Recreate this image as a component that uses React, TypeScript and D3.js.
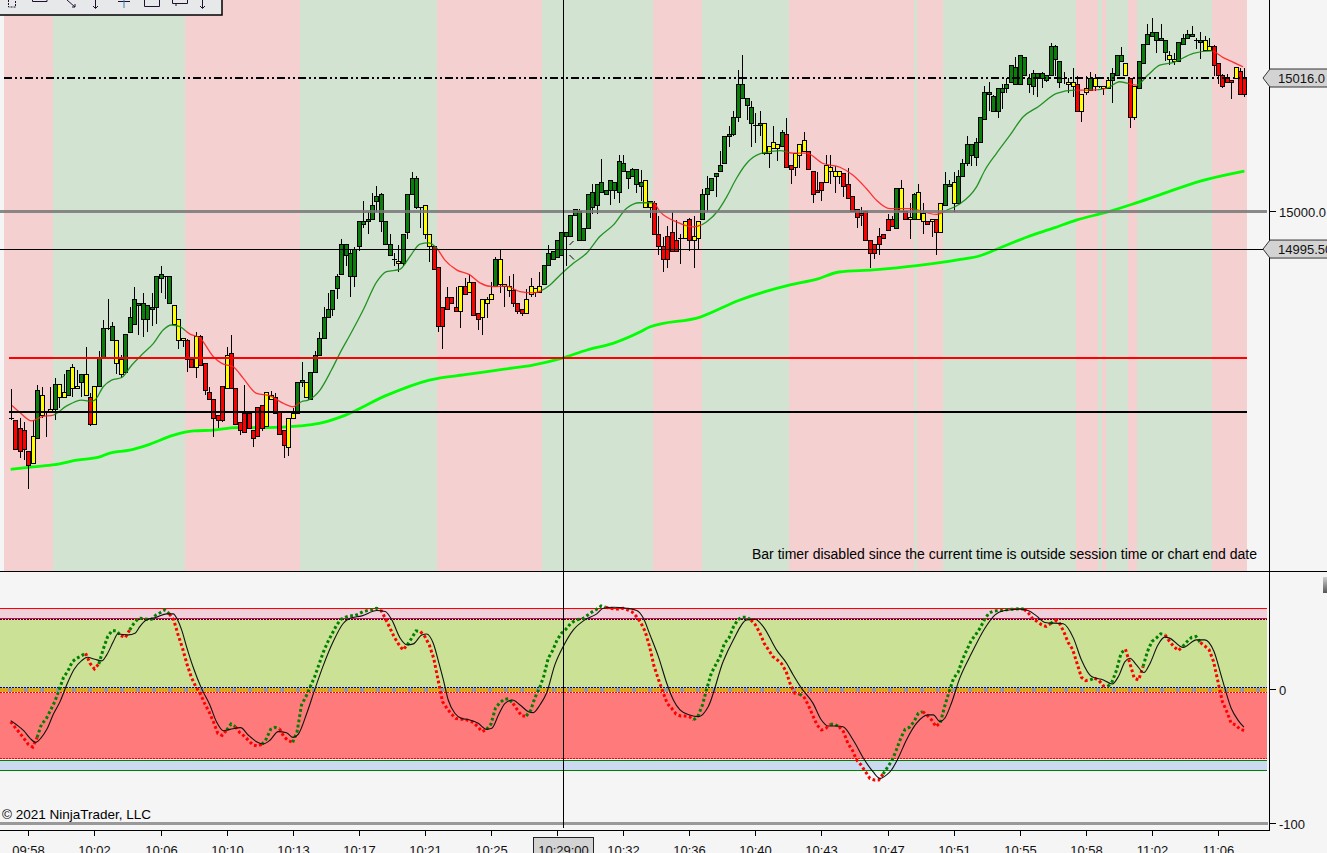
import React from 'react';
import * as d3 from 'd3';

const WIDTH = 1327;
const HEIGHT = 853;

const bodyTop = [
  14975.25,14975,14974,14973.75,14971.25,14973,14978.5,14978,14976,14976.25,
  14979.25,14979.25,14978.25,14981,14981.25,14979,14980.5,14980.5,14977.75,14979,
  14982.5,14986,14986,14986.25,14984.5,14982.25,14985.25,14987.25,14989.5,14989,
  14989,14988.75,14988.5,14992.25,14992.5,14992.25,14992.25,14988.75,14987,14984.75,
  14984.5,14982.25,14985,14985,14981.75,14978.25,14977.5,14975.5,14979,14982.75,
  14983,14978.75,14974.75,14975.75,14975.75,14973.75,14976.5,14976.75,14978.25,14978,
  14977.75,14976,14973.75,14975.25,14975.75,14979.5,14979.75,14979.5,14980.75,14982.75,
  14984.75,14987.25,14988.25,14990.5,14992.25,14996,14996,14995,14995.5,14998.75,
  14998.75,14999,15000.75,15001.75,15002,14998.75,14996,14994.25,14994,14997.25,
  15002,15004,15004,15000.5,15000.75,14997.25,14995.75,14993.25,14988.5,14989.75,
  14989.75,14988.5,14991,14991,14991.5,14991.5,14987.75,14989.5,14989.5,14990,
  14994.25,14994.25,14991.25,14991,14990.5,14989,14988.25,14989.5,14991,14990.75,
  14991,14993.5,14995,14995.25,14996.5,14997.5,14997.5,14999.5,15000.25,15000,
  14998,15002,15002.25,15003.25,15003.5,15002.5,15003.75,15003.5,15006,15005.75,
  15004.75,15005,15005,15003.5,15003.75,15001.25,15001,14997.25,14995.75,14997,
  14997.5,14996.5,14996.75,14998.75,14999,14997,14998.75,15002,15002.75,15004,
  15004.5,15005.5,15009,15009.25,15011.25,15015.25,15015.25,15013.5,15012.5,15010.25,
  15010.5,15010.5,15007.75,15008.25,15008,15009.5,15009.25,15005.5,15007,15008,
  15008.5,15007.25,15004.75,15002.5,15003.5,15005.5,15005.25,15004.75,15004.75,15004.5,
  15003.25,15001.75,15000.25,14999.75,15000,14996.5,14996,14997,14997.25,14999,
  14999,15002.75,15002.75,15000,14999.25,15002,15002.25,14999.75,14998.75,14999,
  14999,15001,15003.25,15003.25,15003.5,15004.25,15005.75,15008,15008,15008.25,
  15011.25,15014.25,15014.25,15013.75,15014.75,15014.75,15015.25,15017.5,15017.25,15018.75,
  15018.5,15016,15016.5,15016.5,15016.5,15016.25,15019.75,15019.75,15018,15016,
  15015.5,15015.5,15015.25,15014,15014.75,15016,15016,15015,15015,15015.75,
  15016.5,15018.75,15018.75,15017.75,15016,15015,15018,15020,15021.25,15021.5,
  15021.5,15020.75,15020.5,15018.75,15018.25,15020.25,15020.75,15021.25,15021.25,15020.5,
  15020.5,15020.5,15019.75,15019.75,15017.75,15016.25,15016,15015.75,15017.25,15016.75,
  15016,
];

const bodyBottom = [
  14975.25,14971.5,14971.25,14971.5,14969.5,14969.75,14972.75,14975.5,14976,14976,
  14976.25,14977.75,14977.75,14978,14978.75,14978.75,14979.5,14978,14974.5,14974.5,
  14979,14982.5,14986,14984.5,14981.75,14980.5,14980.75,14985.5,14986.5,14988.75,
  14987,14987,14988.25,14988.5,14992,14992.25,14989,14986.5,14984.5,14984.5,
  14982.25,14981.25,14981.25,14981.5,14978.5,14977.5,14975.25,14975,14975,14978.75,
  14978.75,14974.5,14973.75,14973.5,14974,14972.75,14973,14974,14974.25,14977.5,
  14975.75,14973.25,14972,14971.75,14975.25,14975.75,14979.5,14977.75,14977.5,14980.75,
  14982.75,14984.75,14987.25,14988.25,14990.75,14992.5,14994.75,14992.25,14992.25,14995.75,
  14998.5,14998.75,14999,15001.25,14998.75,14996,14994.75,14994.25,14993.75,14993.75,
  14997.5,15002,15000.5,15000.5,14997.25,14995.75,14993,14986.25,14986.25,14988.25,
  14989,14988,14988,14990,14990.25,14987.5,14987,14987.25,14989,14989.5,
  14991,14991.25,14991,14990.5,14989,14988,14987.75,14987.75,14990,14990.25,
  14990.25,14991.25,14993.5,14994.25,14994.5,14994.75,14997,14997,14999.5,14996.5,
  14996.5,14998,15000.5,15000.75,15002.25,15002,15002.5,15002.5,15002.25,15004.75,
  15004,15004.25,15003.25,15003,15000.5,15000.5,14997.25,14995.75,14994.25,14994.25,
  14995.25,14995.25,14996.75,14996.75,14996.5,14996.5,14996.75,14999,15002,15002.5,
  15004.25,15004.75,15005.75,15009,15009.25,15011.25,15013.5,15012.75,15010.5,15010.25,
  15010.25,15007,15007,15007.5,15007.5,15007.75,15005.25,15005,15005.25,15006.75,
  15007.25,15005,15002,15002.25,15002.5,15003.5,15004.75,15004.25,15004.25,15003,
  15001.5,15000,14999.25,14999.5,14996.5,14995,14995,14996,14996.75,14997.75,
  14998.25,14998,15000,14999,14999,14999,14999,14998.75,14998.5,14998.75,
  14997.5,14997.5,15000.75,15003,15001,15001,15004.25,15005.75,15006.75,15006.5,
  15008.25,15011,15014,15012,15012,15014.25,15014.75,15015.5,15015.25,15015.25,
  15016.25,15015.25,15015,15016,15016,15015.75,15016.25,15018.25,15015.5,15016,
  15015.25,15015,15012,15012,15014.25,15014.5,15015,15015,15014.75,15014.75,
  15015.75,15016.25,15018,15016.25,15011.25,15011.25,15014.75,15017.75,15020,15021,
  15020.5,15020.5,15019,15018.25,15018,15018,15020,15020.75,15021,15020.5,
  15020.25,15019.25,15019.25,15017.5,15016.25,15015,15015.5,15015.5,15016,15014,
  15014,
];

const wickTop = [
  14978.75,14975,14975.25,14974.75,14971.25,14975,14979.25,14979,14976,14979,
  14980,14979.25,14980.5,14981,14981.75,14981,14980.5,14983.75,14978.25,14979,
  14983.25,14987,14989.5,14986.75,14984.5,14982.75,14985.25,14988.5,14991,14989,
  14990.25,14988.75,14990.25,14992.25,14993.5,14992.25,14992.25,14988.75,14987,14984.75,
  14984.75,14982.25,14985.5,14985.25,14981.75,14979,14977.5,14975.5,14979,14983.75,
  14985.25,14978.75,14974.75,14979.25,14975.75,14973.75,14976.5,14976.75,14978.25,14978.5,
  14978.25,14976,14973.75,14975.25,14976.5,14979.5,14982,14979.5,14980.75,14983.25,
  14985.5,14988.5,14990.25,14990.5,14992.5,14996.75,14996,14995.5,14995.75,14998.75,
  15001.25,15000,15002.25,15003,15002.25,14998.75,14997.25,14995,14996,14997.25,
  15002,15004.75,15004.25,15000.5,15000.75,14997.25,14995.75,14993.25,14988.5,14991,
  14989.75,14991,14991,14992,14992.5,14991.5,14987.75,14989.5,14989.75,14991.5,
  14994.5,14995.5,14991.25,14992.25,14992.5,14989,14988.25,14990.75,14992,14990.75,
  14992.75,14993.5,14996,14995.25,14996.5,14997.5,14997.5,14999.5,15000.25,15000.25,
  14998,15002,15003.25,15003.25,15006.25,15002.5,15003.75,15003.5,15006.75,15006.75,
  15004.75,15005.25,15005,15005,15003.75,15001.25,15001.25,14999.5,14997,14998.25,
  15000,14999,14997.25,14998.75,14999.25,14999.5,14998.75,15002.75,15004.25,15004,
  15004.5,15007.25,15009,15010.25,15012,15017,15018.75,15013.5,15013.25,15011.75,
  15012,15010.5,15007.75,15010.25,15008,15009.75,15011.25,15005.5,15007,15008,
  15009.5,15007.25,15004.75,15004.75,15003.5,15006.75,15006.75,15005.5,15004.75,15004.5,
  15005.25,15001.75,15000.25,15000.5,15000,14996.5,14996,14998,14997.25,14999.75,
  14999.5,15002.75,15003.75,15000,15001,15002.25,15003.25,15001,14998.75,14999,
  14999,15001,15004.75,15003.75,15004.75,15005,15006.25,15009,15008,15008.75,
  15011.25,15015,15015.5,15014,15014.75,15015.25,15016,15017.5,15018.5,15018.75,
  15018.5,15016.5,15017,15016.5,15016.75,15016.25,15020.25,15020,15018,15016.75,
  15016,15017.25,15016.25,15014,15016.25,15016.75,15016.5,15015,15015,15016,
  15017.25,15018.75,15019.75,15017.75,15016,15015,15018,15020,15022.5,15023.25,
  15021.5,15022.5,15020.5,15019.25,15019,15020.25,15021.25,15021.75,15022.25,15020.75,
  15021.5,15021,15020.75,15020,15017.75,15016.5,15016.5,15015.75,15017.25,15017.25,
  15017.25,
];

const wickBottom = [
  14975,14971.5,14970.5,14970.25,14966.75,14969.75,14972.75,14975.25,14973,14976,
  14975,14976.5,14977.75,14978,14977.75,14978.75,14977.75,14978,14974.25,14974.5,
  14979,14982.5,14985.75,14984.5,14980.5,14980,14980.75,14985.5,14986.5,14985.25,
  14985,14985.5,14986.25,14986.5,14990.25,14989.5,14989,14986.5,14983.5,14983.75,
  14980.75,14981.25,14980,14981.5,14978,14977.5,14973,14974,14974.75,14978.75,
  14978.75,14974.5,14973.25,14973.5,14974,14971.75,14973,14973.75,14974.25,14977.5,
  14975.75,14973.25,14970.5,14970.75,14975.25,14975.75,14979,14977.75,14977.5,14980.75,
  14982.75,14984.75,14987.25,14987.5,14989.5,14992.5,14993.5,14989.75,14991,14995.25,
  14998,14997.25,14999,15000,14997.5,14996,14994.75,14993.5,14992.75,14993.5,
  14996.75,15002,15000.25,14998,14996.75,14994,14993,14985.5,14983.5,14988.25,
  14989,14988,14986,14990,14990.25,14987.5,14985.75,14985.25,14987.25,14989.5,
  14991,14990.25,14988.5,14989.75,14988.5,14987.75,14987.5,14987.75,14989.75,14989.75,
  14990.25,14991.25,14993.5,14994.25,14994.5,14994.75,14993.5,14997,14999.5,14996.5,
  14996.5,14998,14999.75,14999.75,15002.25,15002,15000.75,15001.5,15001,15004.75,
  15002.75,15004.25,15002.25,15001.25,15000.5,14999.25,14997.25,14994.75,14992.75,14993.25,
  14995.25,14995.25,14993.75,14996.75,14995.25,14993.25,14995.5,14999,15000,15002.5,
  15001.75,15004.75,15005.75,15007.75,15009,15010.75,15013.5,15011,15007.75,15008.25,
  15009,15006.75,15005.25,15007.5,15006,15007.75,15005.25,15003.25,15004.25,15005.25,
  15007.25,15005,15001,15002.25,15001.25,15003.5,15003.25,15002.25,15003.25,15001.75,
  15001.5,15000,14998,14998.25,14996.5,14993.25,14994.25,14994.75,14996.75,14997.75,
  14998.25,14998,15000,14999,14996.75,14999,14999,14997.25,14998.5,14997,
  14994.75,14997.5,15000.75,15003,15000,15001,15004.25,15005.5,15005.5,15005.5,
  15008.25,15011,15012,15012,15011.25,15012.25,15014.25,15015.5,15015.25,15015.25,
  15016.25,15014.25,15014,15013.75,15014.75,15015.5,15016.25,15016.25,15014.75,15015.25,
  15014.25,15013.75,15012,15010.75,15014,15014.5,15014.5,15014.75,15014,15014.75,
  15013,15016.25,15018,15016.25,15010,15011,15014.75,15017.75,15020,15021,
  15019,15020.5,15018,15017.5,15017.5,15018,15020,15020.75,15021,15019.5,
  15018.25,15019.25,15019.25,15016.25,15015.25,15014.75,15015.5,15013.5,15016,15014,
  15013.75,
];

const barTones = (
  'KRRRRYGYKY' + 'GYYGYYGYRY' + 'GGKGYYGGGG' + 'GGGGGKGYYY' + 'RRYRRRRRRY' +
  'RRRRRRRRYY' + 'RRRYYGGYGG' + 'GGGGGGGGGG' + 'GGGGGGGKYG' + 'GGGKYYRRRR' +
  'RRYRYRRYYY' + 'GYYYRRRYYY' + 'YGGGGGGGGG' + 'GGGGGGGGGG' + 'GGGGYYRRRR' +
  'RRKYRYYGGG' + 'GGGGGGGGGK' + 'GYYYYGRRYY' + 'YRRRRYYYYR' + 'RRRRRRRRRR' +
  'RGYRYGYYRY' + 'RYGGYGGGGG' + 'GGGGGGGGGG' + 'GGGGGGGGGK' + 'YYRYYGYKYY' +
  'GGGYRYGGGG' + 'GGGYYGGGGK' + 'GYYRRRRRYR' + 'R'
).split('');

// fast average, coloured by the background zone it runs over
const emaBars = [0.3,2.1,4.8,7,9.7,12.7,16.1,18,19.1,21,22.9,25.2,27.5,29.7,32.4,34.6,36.5,38.4,40.7,43,46,47.9,50.5,52.8,55.8,58.9,61.9,64.1,66,67.5,70.2,72.8,74.7,77,80,83.1,85.3,88.3,90.6,92.9,94.8,96.7,98.5,101.2,104.2,106.5,109.5,112.5,115.6,118.6,122.4,124.7,127.7,130.7,133.7,136.8,139.8,142.8,145.8,147.4,151.1,154.9,157.9,160.6,162.5,164.7,167,170,174.6,177.6,180.6,184.4,188.2,191.2,194.2,196.5,199.5,204.1,210.1,212.4,215.4,219.2,221.1,223.7,226.8,229.8,233.2,237.4,241.5,245.3,248.7,251.7,255.5,258.1,260.8,263.8,268.4,272.5,275.2,277.4,279.7];
const emaPrices = [14976.75,14975.9,14974.9,14975.4,14975.6,14976.7,14977.4,14977.25,14977.4,14979,14979.8,14980.1,14981.6,14982.8,14984.2,14985.8,14986.4,14986.2,14985.3,14984.8,14982.6,14981.8,14981.4,14980,14978.2,14977.9,14977,14976.6,14977.2,14977.4,14978.6,14981,14983,14985.2,14988.2,14991.6,14992.8,14993.05,14994.6,14996.1,14996.25,14995.6,14994.2,14993,14992.4,14991.45,14991,14991.05,14990.4,14990.25,14991.2,14992.4,14993.8,14995,14997,14998.4,15000.4,15001.05,15001.05,14999.95,14998.75,14998.15,14998.75,15000.15,15001.75,15003.95,15005.75,15006.9,15007.3,15007,15007,15005.75,15005.3,15004.35,15002.75,15001.35,15000.35,15000.35,14999.65,15000.15,15000.9,15002.95,15004.95,15006.95,15009.15,15011.35,15012.55,15014.15,15014.55,15014.55,15014.75,15015.55,15015.15,15016.35,15017.55,15017.85,15018.95,15019.25,15018.45,15017.9,15017.35];

// slow average, the thick bright green line
const smaBars = [0,5,10,15,20,22.5,27,31,37,41.5,46,51.3,58,65.7,70,76,85,95,104,112,118.5,125,130.8,136.7,142.8,145,156.5,165.5,176.9,183,188,195.7,205.7,215.5,220,225,230.7,236.6,242,249,254.7,260.8,270,280];
const smaPrices = [14969.1,14969.4,14969.65,14970.2,14970.55,14971.05,14971.4,14972,14973.2,14973.7,14973.8,14974.1,14974.1,14974.3,14974.6,14975.6,14977.9,14979.8,14980.5,14981.1,14981.6,14982.4,14983.4,14984.2,14985.55,14986.15,14987.35,14989.4,14991.2,14991.9,14992.75,14993,14993.5,14994.25,14994.7,14995.75,14996.95,14998,14999,14999.95,15000.9,15002,15003.65,15004.85];

// background zones, alternating pink and green from the left
const zoneEdges = [-1.5,9.7,39.6,65.7,96.75,120.5,145.8,156.8,176.6,205,205.7,211.7,241.7,246.7,247.7,248.6,253.6,255.6,272.7,280.6];

const oscDots = [
  -23.9,-28.1,-32.1,-36.3,-40.8,-42.8,-35.6,-25.6,-22.1,-15.6,-8.9,-0.2,9.3,14,21,23.5,25.2,27.2,19.7,15.5,
  19.2,30.2,39.6,44.1,43.9,40.4,38.9,44.6,49.6,53.3,53.1,52.6,52.6,55.8,57.6,59.6,56.6,52.1,40.9,30.9,
  19.2,9.3,2.3,-2.7,-10.2,-16.4,-23.9,-32.6,-34.1,-30.1,-25.6,-27.6,-32.1,-34.6,-38,-41.3,-42,-40.8,-36.8,-29.6,
  -28.1,-29.1,-35.1,-38,-39.3,-31.3,-11.4,-5.2,2.3,9.8,19.2,28.4,35.9,42.1,48.4,52.6,54.1,55.1,55.1,56.6,
  58.3,59.1,59.6,60.8,59.6,53.3,46.6,39.6,34.2,29.7,33.4,38.4,43.9,43.4,39.6,33.4,23.5,7.3,-8.9,-13.9,
  -18.1,-21.4,-22.1,-22.1,-23.1,-24.4,-27.6,-31.3,-29.6,-25.6,-13.9,-9.7,-7.2,-6.7,-10.2,-15.1,-19.6,-19.6,-15.6,-5.7,
  1,10.3,23.5,29.2,37.1,42.1,45.1,49.1,51.6,52.6,53.3,55.8,58.1,60.1,62.5,61.5,60.8,60.3,60.3,60.8,
  59.6,58.1,54.6,50.1,43.4,32.2,17.7,7.8,-1.4,-10.2,-13.9,-18.1,-19.6,-19.6,-20.1,-22.6,-19.6,-11.4,1,12.2,
  18.5,24.7,34.7,38.4,46.6,52.1,54.1,54.1,52.1,48.4,42.6,34.7,29.7,24.7,22.2,19.2,13.5,3.5,-2.7,-3.2,
  -5.2,-11.4,-18.9,-26.3,-30.1,-28.8,-25.8,-25.8,-27.6,-31.3,-40,-45,-52.5,-56.2,-61.2,-66.2,-67.4,-67.4,-62.9,-57.9,
  -52.9,-45,-36.2,-29.5,-28,-23.8,-17.6,-16.3,-19.1,-22.5,-27.5,-24.5,-12.1,-1.4,8.6,12.8,22.3,29.7,36.7,41,
  45.9,52.2,57.1,58.6,59.1,59.1,59.6,60.1,60.1,60.6,60.1,57.1,52.6,50.9,48.4,47.2,49.2,52.2,49.7,43.4,
  35.2,30.2,19.8,9.3,6.8,7.3,8.6,6.8,2.8,2.4,6.1,14.8,27.3,30.2,19.8,8.6,7.3,17.3,28.5,36,
  38.5,41.7,41,36,32.2,29.2,32.2,36,39,39.7,35.2,32.7,29.7,21,6.1,-8.9,-16.3,-25,-26.3,-29.5,
  -30.5,
];

// bars where the dotted line changes colour, starting red
const dotFlips = [6,17,20,25,27,36,49,51,57,61,64,84,90,93,108,114,117,135,155,168,179,180,186,188,198,207,211,230,236,237,245,246,249,253,257,262,266,270];

const oscBars = [0,1.4,3,4.4,5.7,6.8,8.2,9.7,11.2,12.7,14.4,16.1,17.4,19.1,20.7,21.8,23.3,24.3,26.7,28.2,29.3,30.6,33.1,35.4,36.9,37.8,38.8,39.9,41.5,43.3,45.2,46.7,48.3,49.8,52.2,53.9,55.8,57.3,58.9,60.7,62.6,64.1,65.3,67.2,69.1,71,73.2,75.5,77,79.7,83.1,85,86.5,88.4,90,91.4,93.3,94.4,95.9,97.3,98.2,99.3,100.8,102.3,104.2,106.1,108,109.2,110.7,112.2,113.9,115.6,117.5,118.6,120.1,121.6,123.5,125.4,127.7,130.3,133,134.5,136.8,139.8,142.1,143.6,145.1,147,148.9,150.4,151.9,154.1,156.1,158.3,161.7,164,167,168.9,170.8,173.8,176.1,177.6,179.5,182.1,184,185.5,187.4,188.9,191.2,193.8,195.7,197.3,198.8,199.9,201.4,203.3,205.6,208.2,209.4,210.9,212,213.5,215.4,218.1,221.1,223.4,225.3,229,230.9,232.8,234.7,238.9,241.2,243,245.3,248,250,251.4,252.9,254,255.5,257.2,258.6,260.4,261.9,263,266.1,269.1,271,273.1,274.8,277,278.5,279.9];
const oscLine = [-23.1,-26.3,-30.8,-36.3,-39.3,-36.3,-29.6,-18.1,-8.9,3.5,15.2,21.7,24.2,22.7,21.5,26,35.9,41.6,40.9,42.1,47.1,51.6,54.1,56.6,56.6,52.6,44.6,32.2,16,1,-11.4,-23.9,-30.6,-29.6,-28.3,-33.8,-38.8,-40.5,-37.5,-31.3,-32.1,-35.6,-33.1,-17.6,1,18.5,35.9,49.6,53.3,55.1,59.1,58.3,52.1,38.4,33.4,34.2,40.9,41.6,34.7,18.5,7.3,-7.7,-17.6,-21.4,-22.6,-25.1,-29.6,-28.8,-18.9,-10.2,-7.7,-11.4,-16.4,-17.1,-11.4,-2.7,18.5,32.2,44.6,52.1,56.6,60.8,61.5,60.8,59.1,53.3,40.9,24.7,4.8,-7.7,-15.1,-18.9,-20.1,-12.7,21,37.1,52.1,52.6,47.1,29.7,19.7,11,1,-10.2,-22.6,-27.1,-27.1,-27.6,-37.5,-52.5,-61.2,-66.2,-63.6,-59.9,-51.2,-37.5,-25,-18.8,-18.8,-23.8,-21.3,-10.1,8.6,27.3,45.9,55.9,58.9,60.1,59.1,55.1,50.2,49.2,38.5,22.3,9.8,7.3,4.3,9.8,21,23.5,18.5,12.8,19.8,33.5,39.2,38.5,31.5,37.2,37.2,28.5,9.8,-13.8,-22.5,-28];

const timeTickBars = [4,19,34,49,64,79,94,109,124,139,154,169,184,199,214,229,244,259,274];
const timeTickLabels = ['09:58','10:02','10:06','10:10','10:13','10:17','10:21','10:25','','10:32','10:36','10:40','10:43','10:47','10:51','10:55','10:58','11:02','11:06'];

const priceTags = [
  { price: 15016, label: '15016.0' },
  { price: 14995.5, label: '14995.50' },
];

const x = d3.scaleLinear().domain([0, 280]).range([10.7, 1244.4]);
const y = d3.scaleLinear().domain([15000, 15016]).range([211.5, 78]);
const osc = d3.scaleLinear().domain([-100, 0]).range([823.7, 689.7]);

const barFill: Record<string, string> = { G: '#0a7d0a', R: '#ff0000', Y: '#ffff00' };

const emaLine = d3.line<number>()
  .x((_, i) => x(emaBars[i]))
  .y(d => y(d))
  .curve(d3.curveMonotoneX);
const smaLine = d3.line<number>()
  .x((_, i) => x(smaBars[i]))
  .y(d => y(d))
  .curve(d3.curveMonotoneX);
const oscPath = d3.line<number>()
  .x((_, i) => x(oscBars[i]))
  .y(d => osc(d))
  .curve(d3.curveMonotoneX);
const dotPath = d3.line<number>()
  .x(i => x(i))
  .y(i => osc(oscDots[i]));

// one dotted stretch per colour run
const dotRuns = d3.pairs([0, ...dotFlips, oscDots.length - 1]).map(([from, to], i) => ({
  bars: d3.range(from, to + 1),
  color: i % 2 === 1 ? '#008000' : '#ff0000',
}));

const zones = d3.pairs(zoneEdges).map(([a, b], i) => ({ a, b, pink: i % 2 === 0 }));

const zoneClip = (id: string, pink: boolean) => (
  <clipPath id={id}>
    {zones.filter(z => z.pink === pink).map(z => (
      <rect key={z.a} x={x(z.a)} y={0} width={x(z.b) - x(z.a)} height={571} />
    ))}
  </clipPath>
);

const FONT = '"Liberation Sans", Arial, sans-serif';

export default function App() {
  const px = (i: number) => Math.round(x(i));

  return (
    <svg
      width={WIDTH}
      height={HEIGHT}
      viewBox={`0 0 ${WIDTH} ${HEIGHT}`}
      style={{ position: 'absolute', left: 0, top: 0, display: 'block', background: '#f5f5f5' }}
      fontFamily={FONT}
      fontSize={13}
    >
      <defs>
        {zoneClip('pinkZones', true)}
        {zoneClip('greenZones', false)}
        <linearGradient id="grip" x1="0" y1="0" x2="0" y2="1">
          <stop offset="0" stopColor="#d0d0d0" />
          <stop offset="1" stopColor="#555" />
        </linearGradient>
      </defs>

      {/* background zones */}
      {zones.map(z => (
        <rect
          key={z.a}
          x={x(z.a)}
          y={0}
          width={x(z.b) - x(z.a)}
          height={571}
          fill={z.pink ? '#f5d0d1' : '#d2e3d2'}
          shapeRendering="crispEdges"
        />
      ))}

      {/* toolbar */}
      <rect x={-2} y={-2} width={224} height={17} fill="#e6e8ea" stroke="#000" strokeWidth={1.5} />
      <g fill="none" stroke="#201030" strokeWidth={1}>
        <path d="M8.5 0V7H15.5V0" strokeDasharray="2 1" />
        <path d="M32.5 0V1.5H47V0" />
        <path d="M67 0L75 7M72 7H75V4" />
        <path d="M95.5 0V8M93 6L95.5 8.5L98 6" />
        <path d="M118 1.5H130" />
        <path d="M124 0V8" stroke="#3a7fc0" />
        <path d="M144.5 0V6.5H159.5V0" />
        <path d="M172.5 0V3.5H187.5V0M176 3.5V6" />
        <path d="M202.5 0V8M200 6L202.5 8.5L205 6" />
      </g>

      <path d={smaLine(smaPrices) ?? ''} fill="none" stroke="#00ff00" strokeWidth={2.8} />

      {/* candles */}
      <g shapeRendering="crispEdges" stroke="#000" strokeWidth={1}>
        {barTones.map((tone, i) => (
          <g key={i}>
            <line x1={px(i) + 0.5} x2={px(i) + 0.5} y1={y(wickTop[i])} y2={y(wickBottom[i])} />
            {tone === 'K' ? (
              <line x1={px(i) - 2} x2={px(i) + 3} y1={y(bodyTop[i])} y2={y(bodyTop[i])} />
            ) : (
              <rect
                x={px(i) - 1.5}
                y={y(bodyTop[i])}
                width={4}
                height={Math.max(1, y(bodyBottom[i]) - y(bodyTop[i]))}
                fill={barFill[tone]}
              />
            )}
          </g>
        ))}
      </g>

      <path d={emaLine(emaPrices) ?? ''} fill="none" stroke="#ff2020" strokeOpacity={0.9} strokeWidth={1.3} clipPath="url(#pinkZones)" />
      <path d={emaLine(emaPrices) ?? ''} fill="none" stroke="#108a10" strokeOpacity={0.9} strokeWidth={1.3} clipPath="url(#greenZones)" />

      {/* price levels */}
      <g shapeRendering="crispEdges">
        <line x1={4} x2={1247} y1={y(15016)} y2={y(15016)} stroke="#000" strokeWidth={2} strokeDasharray="8 3 2 3 2 3" />
        <line x1={0} x2={1267} y1={y(15000)} y2={y(15000)} stroke="#777" strokeOpacity={0.85} strokeWidth={3} />
        <line x1={0} x2={1269} y1={y(14995.5)} y2={y(14995.5)} stroke="#000" />
        <line x1={9} x2={1247} y1={y(14982.5)} y2={y(14982.5)} stroke="#ff0000" strokeWidth={2} />
        <line x1={9} x2={1247} y1={y(14976)} y2={y(14976)} stroke="#000" strokeWidth={2} />
      </g>

      <text x={752} y={559} fontSize={14}>Bar timer disabled since the current time is outside session time or chart end date</text>

      {/* oscillator panel bands */}
      <g shapeRendering="crispEdges">
        <rect x={0} width={1267} y={osc(60.7)} height={osc(53.3) - osc(60.7)} fill="#efd0db" />
        <rect x={0} width={1267} y={osc(52.4)} height={osc(1.6) - osc(52.4)} fill="#cae196" />
        <rect x={0} width={1267} y={osc(-2.2)} height={osc(-51.5) - osc(-2.2)} fill="#ff7b7b" />
        <rect x={0} width={1267} y={osc(-52.7)} height={osc(-60.3) - osc(-52.7)} fill="#cbd9f1" />
        <line x1={0} x2={1267} y1={osc(60.7)} y2={osc(60.7)} stroke="#ff0000" />
        <line x1={0} x2={1267} y1={osc(53.3)} y2={osc(53.3)} stroke="#ff0000" />
        <line x1={0} x2={1267} y1={osc(52.4)} y2={osc(52.4)} stroke="#0000a0" strokeDasharray="2 1" />
        <rect x={0} width={1267} y={osc(1.2)} height={4} fill="#999" />
        <rect x={0} width={1267} y={osc(-1.5)} height={1} fill="#fff" />
        <line x1={0} x2={1267} y1={osc(-0.3)} y2={osc(-0.3)} stroke="#daa520" strokeWidth={4} strokeDasharray="12 4" strokeDashoffset={4} />
        <line x1={0} x2={1267} y1={osc(1.6)} y2={osc(1.6)} stroke="#0000a0" strokeDasharray="2 1" />
        <line x1={0} x2={1267} y1={osc(-2.2)} y2={osc(-2.2)} stroke="#ff0000" strokeDasharray="2 1" />
        <line x1={0} x2={1267} y1={osc(-51.5)} y2={osc(-51.5)} stroke="#ff0000" strokeDasharray="2 1" />
        <line x1={0} x2={1267} y1={osc(-52.7)} y2={osc(-52.7)} stroke="#008000" />
        <line x1={0} x2={1267} y1={osc(-60.3)} y2={osc(-60.3)} stroke="#008000" />
        <line x1={0} x2={1268} y1={osc(-100)} y2={osc(-100)} stroke="#999" strokeWidth={3} />
      </g>

      {dotRuns.map(run => (
        <path
          key={run.bars[0]}
          d={dotPath(run.bars) ?? ''}
          fill="none"
          stroke={run.color}
          strokeWidth={3}
          strokeDasharray="2.8 2.5"
        />
      ))}
      <path d={oscPath(oscLine) ?? ''} fill="none" stroke="#111" strokeWidth={1.1} />

      <text x={2} y={819} fontSize={13.5}>© 2021 NinjaTrader, LLC</text>

      {/* frame and crosshair */}
      <g shapeRendering="crispEdges" stroke="#000">
        <line x1={0} x2={WIDTH} y1={571.5} y2={571.5} />
        <line x1={1269.5} x2={1269.5} y1={0} y2={830} />
        <line x1={0} x2={1270} y1={830.5} y2={830.5} />
        <line x1={563.5} x2={563.5} y1={0} y2={828} />
        <line x1={1270} x2={1276} y1={y(15000)} y2={y(15000)} />
        <line x1={1270} x2={1276} y1={osc(0)} y2={osc(0)} />
        <line x1={1270} x2={1276} y1={osc(-100)} y2={osc(-100)} />
        {timeTickBars.map(b => (
          <line key={b} x1={px(b) + 0.5} x2={px(b) + 0.5} y1={830} y2={836} />
        ))}
      </g>

      {/* mouse pointer corners */}
      <path d="M569.5 245L573.5 241M569.5 255L574 259.5" stroke="#000" fill="none" />

      <rect x={1323} y={577} width={6} height={16} fill="url(#grip)" />

      {timeTickBars.map((b, i) => (
        <text key={b} x={px(b) + 0.5} y={855} textAnchor="middle" fill="#111">{timeTickLabels[i]}</text>
      ))}
      <rect x={533.5} y={837.5} width={60} height={20} fill="#d3d3d3" stroke="#222" shapeRendering="crispEdges" />
      <text x={563.5} y={855} textAnchor="middle" fill="#111">10:29:00</text>

      {/* right axis labels */}
      {priceTags.map(t => (
        <g key={t.label}>
          <path
            d={`M1263 ${y(t.price)}L1270 ${y(t.price) - 9}H1332V${y(t.price) + 9}H1270Z`}
            fill="#d3d3d3"
            stroke="#333"
          />
          <text x={1278} y={y(t.price) + 5} fill="#111">{t.label}</text>
        </g>
      ))}
      <text x={1279} y={y(15000) + 5} fill="#111">15000.0</text>
      <text x={1279} y={osc(0) + 5} fill="#111">0</text>
      <text x={1279} y={osc(-100) + 5} fill="#111">-100</text>
    </svg>
  );
}
